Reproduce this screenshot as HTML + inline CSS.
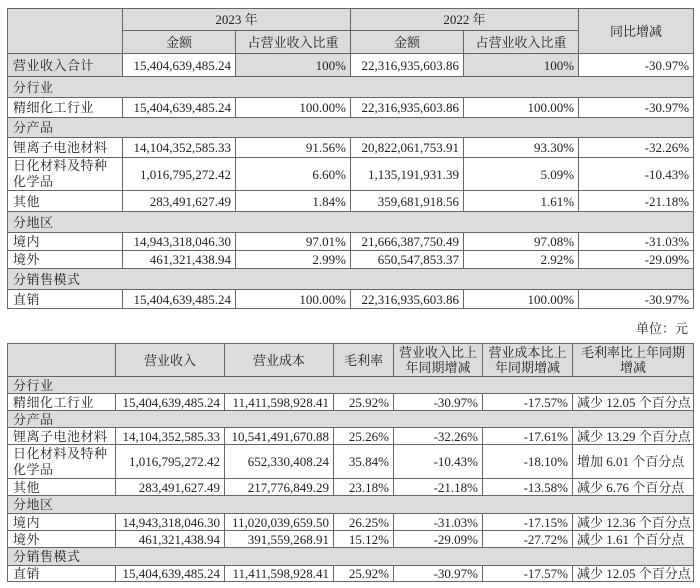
<!DOCTYPE html>
<html><head><meta charset="utf-8">
<style>
html,body{margin:0;padding:0;background:#fff;width:700px;height:588px;overflow:hidden;}
body{position:relative;font-family:"Liberation Serif","Noto Serif CJK SC",serif;font-size:13px;color:#222;}
table{position:absolute;left:7px;border-collapse:collapse;table-layout:fixed;width:686px;}
td{border:1px solid #666;padding:0 4px;white-space:nowrap;overflow:hidden;line-height:15px;}
.lb{letter-spacing:0.5px;padding-left:5px;}
.g{background:#dcdcdc;}
.r{text-align:right;}
.c{text-align:center;}
.s td{background:#dcdcdc;letter-spacing:0.5px;padding-left:5px;}
.w{white-space:nowrap;line-height:16px;letter-spacing:0.5px;padding-left:5px;}
.unit{position:absolute;left:636px;top:318px;font-size:13px;}
</style></head><body>
<table style="top:8px">
<colgroup><col style="width:115px"><col style="width:113px"><col style="width:115px"><col style="width:113px"><col style="width:115px"><col style="width:115px"></colgroup>
<tr style="height:22px"><td class="g" rowspan="2"></td><td class="g c" colspan="2">2023 年</td><td class="g c" colspan="2">2022 年</td><td class="g c" rowspan="2">同比增减</td></tr>
<tr style="height:23px"><td class="g c">金额</td><td class="g c">占营业收入比重</td><td class="g c">金额</td><td class="g c">占营业收入比重</td></tr>
<tr style="height:23px"><td class="g lb">营业收入合计</td><td class="r">15,404,639,485.24</td><td class="g r">100%</td><td class="r">22,316,935,603.86</td><td class="g r">100%</td><td class="r">-30.97%</td></tr>
<tr class="s" style="height:21px"><td colspan="6">分行业</td></tr>
<tr style="height:20px"><td class="lb">精细化工行业</td><td class="r">15,404,639,485.24</td><td class="r">100.00%</td><td class="r">22,316,935,603.86</td><td class="r">100.00%</td><td class="r">-30.97%</td></tr>
<tr class="s" style="height:20px"><td colspan="6">分产品</td></tr>
<tr style="height:20px"><td class="lb">锂离子电池材料</td><td class="r">14,104,352,585.33</td><td class="r">91.56%</td><td class="r">20,822,061,753.91</td><td class="r">93.30%</td><td class="r">-32.26%</td></tr>
<tr style="height:33px"><td class="w">日化材料及特种<br>化学品</td><td class="r">1,016,795,272.42</td><td class="r">6.60%</td><td class="r">1,135,191,931.39</td><td class="r">5.09%</td><td class="r">-10.43%</td></tr>
<tr style="height:21px"><td class="lb">其他</td><td class="r">283,491,627.49</td><td class="r">1.84%</td><td class="r">359,681,918.56</td><td class="r">1.61%</td><td class="r">-21.18%</td></tr>
<tr class="s" style="height:21px"><td colspan="6">分地区</td></tr>
<tr style="height:18px"><td class="lb">境内</td><td class="r">14,943,318,046.30</td><td class="r">97.01%</td><td class="r">21,666,387,750.49</td><td class="r">97.08%</td><td class="r">-31.03%</td></tr>
<tr style="height:18px"><td class="lb">境外</td><td class="r">461,321,438.94</td><td class="r">2.99%</td><td class="r">650,547,853.37</td><td class="r">2.92%</td><td class="r">-29.09%</td></tr>
<tr class="s" style="height:21px"><td colspan="6">分销售模式</td></tr>
<tr style="height:19px"><td class="lb">直销</td><td class="r">15,404,639,485.24</td><td class="r">100.00%</td><td class="r">22,316,935,603.86</td><td class="r">100.00%</td><td class="r">-30.97%</td></tr>
</table>
<div class="unit">单位：元</div>
<table style="top:343px">
<colgroup><col style="width:108px"><col style="width:109px"><col style="width:109px"><col style="width:60px"><col style="width:89px"><col style="width:90px"><col style="width:121px"></colgroup>
<tr style="height:33px"><td class="g"></td><td class="g c">营业收入</td><td class="g c">营业成本</td><td class="g c">毛利率</td><td class="g c" style="white-space:normal">营业收入比上年同期增减</td><td class="g c" style="white-space:normal">营业成本比上年同期增减</td><td class="g c" style="white-space:normal">毛利率比上年同期增减</td></tr>
<tr class="s" style="height:17px"><td colspan="7">分行业</td></tr>
<tr style="height:17px"><td class="lb">精细化工行业</td><td class="r">15,404,639,485.24</td><td class="r">11,411,598,928.41</td><td class="r">25.92%</td><td class="r">-30.97%</td><td class="r">-17.57%</td><td>减少 12.05 个百分点</td></tr>
<tr class="s" style="height:17px"><td colspan="7">分产品</td></tr>
<tr style="height:17px"><td class="lb">锂离子电池材料</td><td class="r">14,104,352,585.33</td><td class="r">10,541,491,670.88</td><td class="r">25.26%</td><td class="r">-32.26%</td><td class="r">-17.61%</td><td>减少 13.29 个百分点</td></tr>
<tr style="height:34px"><td class="w">日化材料及特种<br>化学品</td><td class="r">1,016,795,272.42</td><td class="r">652,330,408.24</td><td class="r">35.84%</td><td class="r">-10.43%</td><td class="r">-18.10%</td><td>增加 6.01 个百分点</td></tr>
<tr style="height:17px"><td class="lb">其他</td><td class="r">283,491,627.49</td><td class="r">217,776,849.29</td><td class="r">23.18%</td><td class="r">-21.18%</td><td class="r">-13.58%</td><td>减少 6.76 个百分点</td></tr>
<tr class="s" style="height:18px"><td colspan="7">分地区</td></tr>
<tr style="height:17px"><td class="lb">境内</td><td class="r">14,943,318,046.30</td><td class="r">11,020,039,659.50</td><td class="r">26.25%</td><td class="r">-31.03%</td><td class="r">-17.15%</td><td>减少 12.36 个百分点</td></tr>
<tr style="height:17px"><td class="lb">境外</td><td class="r">461,321,438.94</td><td class="r">391,559,268.91</td><td class="r">15.12%</td><td class="r">-29.09%</td><td class="r">-27.72%</td><td>减少 1.61 个百分点</td></tr>
<tr class="s" style="height:18px"><td colspan="7">分销售模式</td></tr>
<tr style="height:16px"><td class="lb">直销</td><td class="r">15,404,639,485.24</td><td class="r">11,411,598,928.41</td><td class="r">25.92%</td><td class="r">-30.97%</td><td class="r">-17.57%</td><td>减少 12.05 个百分点</td></tr>
</table>
</body></html>
